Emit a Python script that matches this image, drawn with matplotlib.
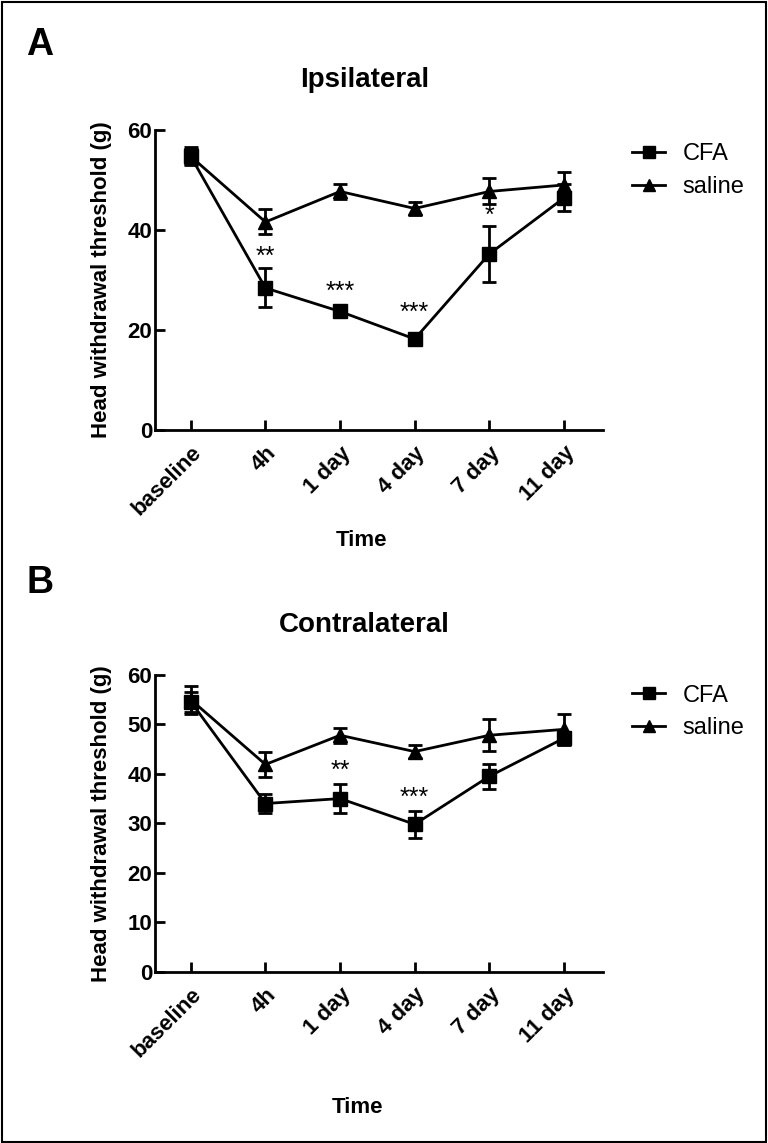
import matplotlib
matplotlib.use('Agg')
import matplotlib.pyplot as plt
from matplotlib.patches import Rectangle

plt.rcParams['font.family'] = ['Liberation Sans', 'DejaVu Sans']

# Подписи по оси X
times = ['baseline', '4h', '1 day', '4 day', '7 day', '11 day']

# Ипсилатеральная сторона
ipsi_cfa = [54.7, 28.4, 23.7, 18.2, 35.2, 46.4]
ipsi_cfa_err = [1.8, 3.9, 1.1, 1.2, 5.6, 2.7]
ipsi_saline = [54.7, 41.6, 47.7, 44.3, 47.7, 49.0]
ipsi_saline_err = [1.5, 2.5, 1.5, 1.3, 2.6, 2.5]
ipsi_stars = ['', '**', '***', '***', '*', '']
ipsi_star_y = [0, 34.7, 27.7, 23.4, 42.9, 0]

# Контралатеральная сторона
contra_cfa = [54.6, 34.0, 35.0, 29.8, 39.5, 47.2]
contra_cfa_err = [2.0, 2.0, 3.0, 2.7, 2.5, 1.2]
contra_saline = [55.0, 41.9, 47.8, 44.5, 47.8, 49.0]
contra_saline_err = [2.8, 2.5, 1.5, 1.3, 3.2, 3.1]
contra_stars = ['', '', '**', '***', '', '']
contra_star_y = [0, 0, 40.6, 35.2, 0, 0]

fig = plt.figure(figsize=(7.68, 11.43), dpi=100)
fig.patches.append(Rectangle((0.002, 0.001), 0.996, 0.997, transform=fig.transFigure,
                             fill=False, edgecolor='black', linewidth=1.5))


def panel(rect, cfa, cfa_err, sal, sal_err, stars, star_y, yticks, title, letter,
          letter_y, title_y, time_xy, leg_y):
    ax = fig.add_axes(rect)
    x = list(range(len(times)))
    ax.errorbar(x, cfa, yerr=cfa_err, color='black', marker='s', markersize=10, linewidth=2,
                capsize=5, capthick=2, elinewidth=2, label='CFA')
    ax.errorbar(x, sal, yerr=sal_err, color='black', marker='^', markersize=10, linewidth=2,
                capsize=5, capthick=2, elinewidth=2, label='saline')
    for i, s in enumerate(stars):
        if s:
            ax.text(i, star_y[i], s, ha='center', va='center', fontsize=18)
    ax.set_xlim(-0.48, 5.52)
    ax.set_ylim(0, 60)
    ax.set_yticks(yticks)
    ax.set_xticks(x)
    ax.set_xticklabels(times, rotation=45, ha='right', rotation_mode='anchor')
    for lab in ax.get_xticklabels() + ax.get_yticklabels():
        lab.set_fontweight('bold')
        lab.set_fontsize(16)
    ax.tick_params(axis='x', width=2, length=7, direction='in', pad=9)
    ax.tick_params(axis='y', width=2, length=7, direction='in', pad=2)
    ax.spines['top'].set_visible(False)
    ax.spines['right'].set_visible(False)
    ax.spines['left'].set_linewidth(2)
    ax.spines['bottom'].set_linewidth(2)
    ax.set_ylabel('Head withdrawal threshold (g)', fontsize=16, fontweight='bold')
    ax.yaxis.set_label_coords(-0.095, 0.5)
    ax.set_xlabel('Time', fontsize=16, fontweight='bold')
    ax.xaxis.set_label_coords(time_xy[0], time_xy[1])
    fig.text(0.475, title_y, title, ha='center', va='center', fontsize=20, fontweight='bold')
    fig.text(0.052, letter_y, letter, ha='center', va='center', fontsize=27, fontweight='bold')
    handles, labels = ax.get_legend_handles_labels()
    handles = [h[0] for h in handles]
    fig.legend(handles, labels, loc='upper left', bbox_to_anchor=(0.823, leg_y), frameon=False,
               fontsize=17, handlelength=1.4, handletextpad=0.75, labelspacing=0.45,
               borderpad=0, borderaxespad=0, markerscale=0.85)
    return ax


panel([0.2018, 0.6238, 0.583, 0.2625], ipsi_cfa, ipsi_cfa_err, ipsi_saline, ipsi_saline_err,
      ipsi_stars, ipsi_star_y, [0, 20, 40, 60], 'Ipsilateral', 'A', 0.961, 0.930,
      (0.462, -0.333), 0.8745)
panel([0.2018, 0.1499, 0.583, 0.2596], contra_cfa, contra_cfa_err, contra_saline, contra_saline_err,
      contra_stars, contra_star_y, [0, 10, 20, 30, 40, 50, 60], 'Contralateral', 'B', 0.490, 0.453,
      (0.453, -0.421), 0.401)

fig.savefig('out.png', dpi=100)
